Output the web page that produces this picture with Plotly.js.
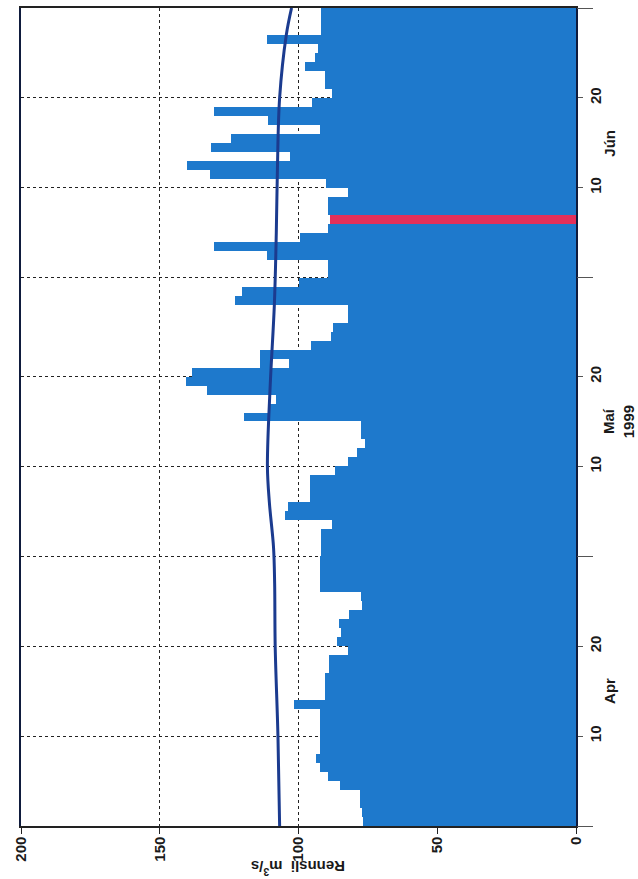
<!DOCTYPE html>
<html><head><meta charset="utf-8">
<script src="https://cdn.plot.ly/plotly-3.0.1.min.js"></script>
<style>html,body{margin:0;padding:0;background:#fff}#chart{width:638px;height:879px}</style>
</head><body><div id="chart"></div>
<script>
// Daily flow (Rennsli, m3/s), 1 Apr – 30 Jun 1999
const dailyFlow = [
  76.7, 77, 78, 78, 85, 89.4, 92.2, 93.6, 92.2, 92.2,          // Apr 1-10
  92.2, 92.2, 92.2, 101.6, 90.6, 90.6, 90.6, 89, 89, 82.3,     // Apr 11-20
  86.2, 84.8, 85.3, 81.7, 77, 77.5, 92.2, 92.2, 92.2, 92.2,    // Apr 21-30
  92, 92, 92, 88, 105, 103.8, 96, 96, 96, 87,                  // May 1-10
  82, 79, 76, 77.5, 77.5, 119.5, 110.5, 108, 133, 140.5,       // May 11-20
  138.5, 114, 114, 95.4, 88.3, 87.7, 82.3, 82.3, 123, 120.5, 100, // May 21-31
  89.4, 89.4, 111.5, 130.5, 99.5, 89.4, 88.7, 89.4, 89.4, 82.3, // Jun 1-10
  90, 132, 140.2, 103, 131.6, 124.5, 92.4, 111, 130.5, 95,      // Jun 11-20
  88, 90.6, 90.6, 97.5, 94, 93, 111.5, 92, 92, 92              // Jun 21-30
];
const firstDay = [1999, 3, 1]; // 1 April 1999 (month index 3)

const redDays = ['1999-06-07'];
const redFlow = [88.7];

const gapDays = ['1999-05-22'];
const gapFrom = [103.5];
const gapTo = [109.5];

const meanDates = ['1999-04-01','1999-04-11','1999-04-21','1999-04-28','1999-05-02','1999-05-07','1999-05-11',
                   '1999-05-20','1999-05-29','1999-06-06','1999-06-13','1999-06-21','1999-06-28','1999-07-01'];
const meanFlow  = [106.8, 107.4, 108.4, 108.6, 109, 110.5, 111.2, 110.2, 108.7, 108, 107.6, 106.8, 104.4, 102.5];

const dayTickDates = ['1999-04-11','1999-04-21','1999-05-01','1999-05-11','1999-05-21','1999-06-01','1999-06-11','1999-06-21'];
const dayTickText  = ['10','20',' ','10','20',' ','10','20'];
const monthStarts  = ['1999-04-01','1999-05-01','1999-06-01','1999-07-01'];
const monthNames   = ['Apr','Maí<br>1999','Jún'];
const monthMids    = ['1999-04-16','1999-05-16','1999-06-16'];
const monthLabelX  = [1.059, 1.077, 1.061];
const flowTicks    = [0, 50, 100, 150, 200];

function noon(d) { return d + ' 12:00'; }
const dayCenters = dailyFlow.map((_, i) => {
  const dt = new Date(Date.UTC(firstDay[0], firstDay[1], firstDay[2] + i, 12));
  return dt.toISOString().slice(0, 10) + ' 12:00';
});
const DAY = 86400000;
const FONT = {family: 'Liberation Sans, Arial, sans-serif', size: 15, color: '#1a1a1a', weight: 'bold'};

const traces = [
  {type: 'bar', orientation: 'h', x: dailyFlow, y: dayCenters, width: dailyFlow.map(() => DAY),
   marker: {color: '#1e79cc', line: {width: 0}}, hoverinfo: 'skip'},
  {type: 'bar', orientation: 'h', base: gapFrom, x: gapTo.map((v, i) => v - gapFrom[i]), y: gapDays.map(noon),
   width: gapDays.map(() => DAY), marker: {color: '#ffffff', line: {width: 0}}, hoverinfo: 'skip'},
  {type: 'bar', orientation: 'h', x: redFlow, y: redDays.map(noon), width: redDays.map(() => DAY),
   marker: {color: '#e3305a', line: {width: 0}}, hoverinfo: 'skip'},
  {type: 'scatter', mode: 'lines', x: meanFlow, y: meanDates, yaxis: 'y2',
   line: {color: '#1b3b8f', width: 3, shape: 'spline'}, hoverinfo: 'skip'}
];

const layout = {
  width: 638, height: 879,
  margin: {l: 21, r: 62, t: 8, b: 53},
  paper_bgcolor: '#fff', plot_bgcolor: '#fff',
  showlegend: false, barmode: 'overlay', bargap: 0,
  font: FONT,
  xaxis: {
    range: [200, 0], tickmode: 'array', tickvals: flowTicks, ticks: 'outside', ticklen: 6, tickcolor: '#222',
    ticklabelstandoff: -3,
    tickangle: -90, tickfont: FONT, showgrid: true, gridcolor: '#222', griddash: 'dot', gridwidth: 1.2,
    showline: true, mirror: true, linecolor: '#222', linewidth: 1.6, zeroline: false, fixedrange: true
  },
  yaxis: {
    type: 'date', range: ['1999-04-01', '1999-07-01'], side: 'right',
    tickmode: 'array', tickvals: dayTickDates, ticktext: dayTickText, ticks: 'outside', ticklen: 5, tickcolor: '#555',
    tickangle: -90, tickfont: FONT, showgrid: true, gridcolor: '#222', griddash: 'dot', gridwidth: 1.2,
    showline: true, mirror: true, linecolor: '#0f1b3d', linewidth: 2, zeroline: false, fixedrange: true
  },
  yaxis2: {
    type: 'date', range: ['1999-04-01', '1999-07-01'], overlaying: 'y', side: 'right',
    tickmode: 'array', tickvals: monthStarts, ticks: 'outside', ticklen: 16, tickcolor: '#555',
    showticklabels: false, showgrid: false, showline: false, zeroline: false, fixedrange: true
  },
  annotations: monthNames.map((t, i) => ({
    text: t, xref: 'paper', yref: 'y', x: monthLabelX[i], y: monthMids[i], xanchor: 'center', yanchor: 'middle',
    textangle: -90, showarrow: false, font: FONT
  })).concat([{
    text: 'Rennsli  m<sup>3</sup>/s', xref: 'x', yref: 'paper', x: 100, y: -0.0645,
    xanchor: 'center', yanchor: 'bottom', textangle: 180, showarrow: false, font: FONT, borderpad: 0
  }])
};

Plotly.newPlot('chart', traces, layout, {displayModeBar: false, staticPlot: true});
</script>
</body></html>
